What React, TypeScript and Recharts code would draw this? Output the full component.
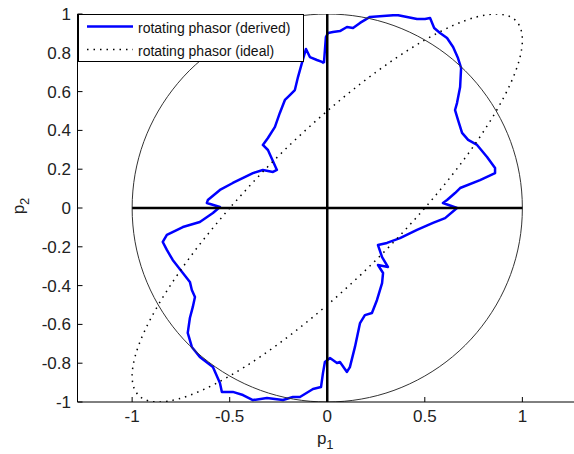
import { LineChart, Line, XAxis, YAxis, Legend } from 'recharts'

const font = '"Liberation Sans", Arial, sans-serif'

const xTicks = [-1, -0.5, 0, 0.5, 1]
const yTicks = [-1, -0.8, -0.6, -0.4, -0.2, 0, 0.2, 0.4, 0.6, 0.8, 1]

// clockwise from where it meets p1 = 0 at the top
const derived: [number, number][] = [
  [-0.017, 0.747], [-0.007, 0.881], [0.004, 0.902], [0.029, 0.907], [0.065, 0.912],
  [0.101, 0.933], [0.132, 0.928], [0.168, 0.954], [0.219, 0.985], [0.286, 0.99],
  [0.357, 0.995], [0.409, 0.985], [0.46, 0.974], [0.501, 0.974], [0.527, 0.979],
  [0.548, 0.928], [0.578, 0.902], [0.614, 0.876], [0.645, 0.83], [0.67, 0.773],
  [0.686, 0.722], [0.681, 0.624], [0.665, 0.541], [0.655, 0.505], [0.67, 0.454],
  [0.691, 0.387], [0.722, 0.351], [0.768, 0.325], [0.819, 0.263], [0.86, 0.206],
  [0.86, 0.18], [0.783, 0.144], [0.681, 0.103], [0.655, 0.077], [0.614, 0.041],
  [0.593, 0.026], [0.665, 0.0], [0.604, -0.052], [0.542, -0.077], [0.46, -0.113],
  [0.373, -0.155], [0.306, -0.18], [0.26, -0.191], [0.281, -0.253], [0.311, -0.304],
  [0.26, -0.294], [0.286, -0.335], [0.281, -0.387], [0.255, -0.474], [0.229, -0.541],
  [0.193, -0.552], [0.168, -0.593], [0.142, -0.716], [0.116, -0.82], [0.101, -0.845],
  [0.065, -0.794], [0.05, -0.799], [0.014, -0.773], [-0.012, -0.794], [-0.022, -0.851],
  [-0.032, -0.923], [-0.073, -0.933], [-0.14, -0.974], [-0.176, -0.974], [-0.227, -0.99],
  [-0.309, -0.979], [-0.381, -0.99], [-0.432, -0.964], [-0.484, -0.948], [-0.54, -0.948],
  [-0.55, -0.902], [-0.586, -0.82], [-0.653, -0.768], [-0.694, -0.716], [-0.715, -0.644],
  [-0.704, -0.567], [-0.689, -0.51], [-0.678, -0.459], [-0.694, -0.423], [-0.704, -0.381],
  [-0.74, -0.335], [-0.792, -0.268], [-0.822, -0.216], [-0.843, -0.175], [-0.822, -0.139],
  [-0.74, -0.098], [-0.653, -0.072], [-0.586, -0.026], [-0.55, 0.005], [-0.617, 0.026],
  [-0.612, 0.041], [-0.55, 0.093], [-0.484, 0.129], [-0.381, 0.18], [-0.33, 0.196],
  [-0.278, 0.186], [-0.258, 0.196], [-0.304, 0.299], [-0.33, 0.325], [-0.304, 0.361],
  [-0.268, 0.418], [-0.243, 0.49], [-0.217, 0.557], [-0.202, 0.572], [-0.166, 0.608],
  [-0.15, 0.675], [-0.13, 0.747], [-0.109, 0.82], [-0.089, 0.778], [-0.053, 0.763],
  [-0.027, 0.753], [-0.017, 0.747],
]

const ideal: [number, number][] = [
  [-0.5, 0], [-0.643, -0.174], [-0.766, -0.342], [-0.866, -0.5], [-0.94, -0.643],
  [-0.985, -0.766], [-1, -0.866], [-0.985, -0.94], [-0.94, -0.985], [-0.866, -1],
  [-0.766, -0.985], [-0.643, -0.94], [-0.5, -0.866], [-0.342, -0.766], [-0.174, -0.643],
  [0, -0.5], [0.174, -0.342], [0.342, -0.174], [0.5, 0], [0.643, 0.174],
  [0.766, 0.342], [0.866, 0.5], [0.94, 0.643], [0.985, 0.766], [1, 0.866],
  [0.985, 0.94], [0.94, 0.985], [0.866, 1], [0.766, 0.985], [0.643, 0.94],
  [0.5, 0.866], [0.342, 0.766], [0.174, 0.643], [0, 0.5], [-0.174, 0.342],
  [-0.342, 0.174], [-0.5, 0],
]

const unitCircle: [number, number][] = [
  [-0.5, 0.866], [-0.643, 0.766], [-0.766, 0.643], [-0.866, 0.5], [-0.94, 0.342],
  [-0.985, 0.174], [-1, 0], [-0.985, -0.174], [-0.94, -0.342], [-0.866, -0.5],
  [-0.766, -0.643], [-0.643, -0.766], [-0.5, -0.866], [-0.342, -0.94], [-0.174, -0.985],
  [0, -1], [0.174, -0.985], [0.342, -0.94], [0.5, -0.866], [0.643, -0.766],
  [0.766, -0.643], [0.866, -0.5], [0.94, -0.342], [0.985, -0.174], [1, 0],
  [0.985, 0.174], [0.94, 0.342], [0.866, 0.5], [0.766, 0.643], [0.643, 0.766],
  [0.5, 0.866], [0.342, 0.94], [0.174, 0.985], [0, 1], [-0.174, 0.985],
  [-0.342, 0.94], [-0.5, 0.866],
]

const hAxis: [number, number][] = [[-1, 0], [1, 0]]
const vAxis: [number, number][] = [[0, -1], [0, 1]]

const rows = (pts: [number, number][]) => pts.map(([x, y]) => ({ x, y }))

function BottomTick({ x, y, payload }: any) {
  return (
    <g>
      <line x1={x} y1={y} x2={x} y2={y - 5} stroke="#000" />
      <text x={x} y={y + 20} textAnchor="middle" fontSize={17} fontFamily={font} fill="#222">
        {String(payload.value)}
      </text>
    </g>
  )
}

function TopTick({ x, y }: any) {
  return <line x1={x} y1={y} x2={x} y2={y + 5} stroke="#000" />
}

function LeftTick({ x, y, payload }: any) {
  return (
    <g>
      <line x1={x} y1={y} x2={x + 5} y2={y} stroke="#000" />
      <text x={x - 6.5} y={y + 6} textAnchor="end" fontSize={17} fontFamily={font} fill="#222">
        {String(payload.value)}
      </text>
    </g>
  )
}

function RightTick({ x, y }: any) {
  return <line x1={x - 5} y1={y} x2={x} y2={y} stroke="#000" />
}

function XLabel({ viewBox }: any) {
  const vb = viewBox ?? { x: 77.5, y: 402, width: 499.5, height: 52 }
  const cx = vb.x + vb.width / 2 - 2
  return (
    <text x={cx} y={vb.y + 42} textAnchor="middle" fontSize={17} fontFamily={font} fill="#222">
      p<tspan dy={5} fontSize={13}>1</tspan>
    </text>
  )
}

function YLabel({ viewBox }: any) {
  const vb = viewBox ?? { x: 0, y: 14, width: 77.5, height: 388 }
  const cx = vb.x + 24
  const cy = vb.y + vb.height / 2 - 2
  return (
    <text
      x={cx}
      y={cy}
      textAnchor="middle"
      fontSize={17}
      fontFamily={font}
      fill="#222"
      transform={`rotate(-90, ${cx}, ${cy})`}
    >
      p<tspan dy={5} fontSize={13}>2</tspan>
    </text>
  )
}

function PhasorLegend({ payload }: any) {
  const items = (payload ?? []).filter((p: any) => p.type !== 'none')
  return (
    <svg width={226} height={48} style={{ display: 'block' }}>
      <rect x={0.5} y={0.5} width={225} height={47} fill="#fff" stroke="#000" />
      {items.map((p: any, i: number) => {
        const ly = 12.5 + i * 23
        return (
          <g key={p.value}>
            <line
              x1={9}
              x2={55}
              y1={ly}
              y2={ly}
              stroke={p.color}
              strokeWidth={p.payload?.strokeDasharray ? 1.5 : 2.5}
              strokeDasharray={p.payload?.strokeDasharray}
            />
            <text x={60} y={ly + 6} fontSize={14} fontFamily={font} fill="#111">
              {p.value}
            </text>
          </g>
        )
      })}
    </svg>
  )
}

export default function App() {
  return (
    <div
      style={{
        position: 'absolute',
        left: 0,
        top: 0,
        width: 574,
        height: 454,
        overflow: 'hidden',
        background: '#fff',
      }}
    >
      <LineChart width={574} height={454} margin={{ top: 14, right: -3, bottom: 0, left: 0 }}>
        <XAxis
          xAxisId="b"
          dataKey="x"
          type="number"
          domain={[-1.28, 1.28]}
          allowDataOverflow
          ticks={xTicks}
          interval={0}
          height={52}
          tickSize={0}
          tickMargin={0}
          tickLine={false}
          axisLine={{ stroke: '#000' }}
          tick={<BottomTick />}
          label={<XLabel />}
        />
        <XAxis
          xAxisId="t"
          orientation="top"
          dataKey="x"
          type="number"
          domain={[-1.28, 1.28]}
          allowDataOverflow
          ticks={xTicks}
          interval={0}
          height={0}
          tickSize={0}
          tickMargin={0}
          tickLine={false}
          axisLine={{ stroke: '#000' }}
          tick={<TopTick />}
        />
        <YAxis
          yAxisId="l"
          type="number"
          domain={[-1, 1]}
          allowDataOverflow
          ticks={yTicks}
          interval={0}
          width={77.5}
          tickSize={0}
          tickMargin={0}
          tickLine={false}
          axisLine={{ stroke: '#000' }}
          tick={<LeftTick />}
          label={<YLabel />}
        />
        <YAxis
          yAxisId="r"
          orientation="right"
          type="number"
          domain={[-1, 1]}
          allowDataOverflow
          ticks={yTicks}
          interval={0}
          width={0}
          tickSize={0}
          tickMargin={0}
          tickLine={false}
          axisLine={{ stroke: '#000' }}
          tick={<RightTick />}
        />
        <Legend
          layout="vertical"
          align="center"
          verticalAlign="middle"
          wrapperStyle={{ left: 77.5, top: 14, width: 226, height: 48 }}
          content={<PhasorLegend />}
        />
        <Line
          xAxisId="b"
          yAxisId="l"
          name="rotating phasor (derived)"
          data={rows(derived)}
          dataKey="y"
          type="linear"
          stroke="#0000ff"
          strokeWidth={2.5}
          strokeLinejoin="round"
          dot={false}
          activeDot={false}
          isAnimationActive={false}
        />
        <Line
          xAxisId="b"
          yAxisId="l"
          name="rotating phasor (ideal)"
          data={rows(ideal)}
          dataKey="y"
          type="natural"
          stroke="#000"
          strokeWidth={1.5}
          strokeDasharray="1.5 5"
          dot={false}
          activeDot={false}
          isAnimationActive={false}
        />
        <Line
          xAxisId="b"
          yAxisId="l"
          data={rows(unitCircle)}
          dataKey="y"
          type="natural"
          stroke="#333"
          strokeWidth={1}
          dot={false}
          activeDot={false}
          legendType="none"
          isAnimationActive={false}
        />
        <Line
          xAxisId="b"
          yAxisId="l"
          data={rows(hAxis)}
          dataKey="y"
          type="linear"
          stroke="#000"
          strokeWidth={2.5}
          dot={false}
          activeDot={false}
          legendType="none"
          isAnimationActive={false}
        />
        <Line
          xAxisId="b"
          yAxisId="l"
          data={rows(vAxis)}
          dataKey="y"
          type="linear"
          stroke="#000"
          strokeWidth={2.5}
          dot={false}
          activeDot={false}
          legendType="none"
          isAnimationActive={false}
        />
      </LineChart>
    </div>
  )
}
